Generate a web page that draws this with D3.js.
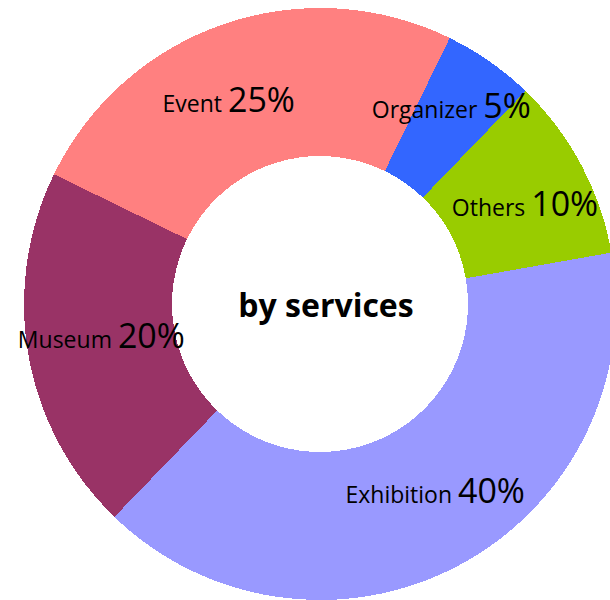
<!DOCTYPE html>
<html>
<head>
<meta charset="utf-8">
<script src="https://cdn.jsdelivr.net/npm/d3@7"></script>
<style>
  body { margin: 0; background: #fff; }
  svg { display: block; font-family: "Open Sans", sans-serif; }
</style>
</head>
<body>
<svg id="donut" width="610" height="600"></svg>
<script>
// services share
const categories = ["Event", "Organizer", "Others", "Exhibition", "Museum"];
const shares = [25, 5, 10, 40, 20];
const colours = ["#ff8080", "#3366ff", "#99cc00", "#9999ff", "#993366"];
const centreTitle = "by services";

const svg = d3.select("#donut");
const cx = 320, cy = 304;
const outerR = 296, innerR = 148;

// small hand nudges so labels sit like the original (x, y in px from centroid)
const labelNudge = {
    Event: [-19, 12],
    Organizer: [4, -10],
    Others: [9, 11],
    Exhibition: [11, -3],
    Museum: [0, 0]
};

const data = categories.map((c, i) => ({ name: c, value: shares[i], colour: colours[i] }));

// slices go clockwise, first one (Event) starts a bit left of the top
const pie = d3.pie()
    .value(d => d.value)
    .sort(null)
    .startAngle(-64 * Math.PI / 180)
    .endAngle(296 * Math.PI / 180);

const arc = d3.arc().innerRadius(innerR).outerRadius(outerR);
const labelArc = d3.arc().innerRadius(222).outerRadius(222);

const g = svg.append("g").attr("transform", "translate(" + cx + "," + cy + ")");

g.selectAll("path.slice")
    .data(pie(data))
    .enter()
    .append("path")
    .attr("class", "slice")
    .attr("d", arc)
    .attr("fill", d => d.data.colour)
    .attr("shape-rendering", "crispEdges");

// labels: small category name, bigger percentage
const labels = g.selectAll("text.label")
    .data(pie(data))
    .enter()
    .append("text")
    .attr("class", "label")
    .attr("transform", d => {
        const c = labelArc.centroid(d);
        const n = labelNudge[d.data.name];
        return "translate(" + (c[0] + n[0]) + "," + (c[1] + n[1]) + ")";
    })
    .attr("text-anchor", "middle")
    .attr("dy", "0.35em")
    .attr("fill", "#000");

labels.append("tspan")
    .attr("font-size", 23)
    .text(d => d.data.name + " ");
labels.append("tspan")
    .attr("font-size", 34)
    .text(d => d.data.value + "%");

g.append("text")
    .attr("text-anchor", "middle")
    .attr("x", 6)
    .attr("y", 13)
    .attr("font-size", 32)
    .attr("font-weight", "bold")
    .text(centreTitle);
</script>
</body>
</html>
